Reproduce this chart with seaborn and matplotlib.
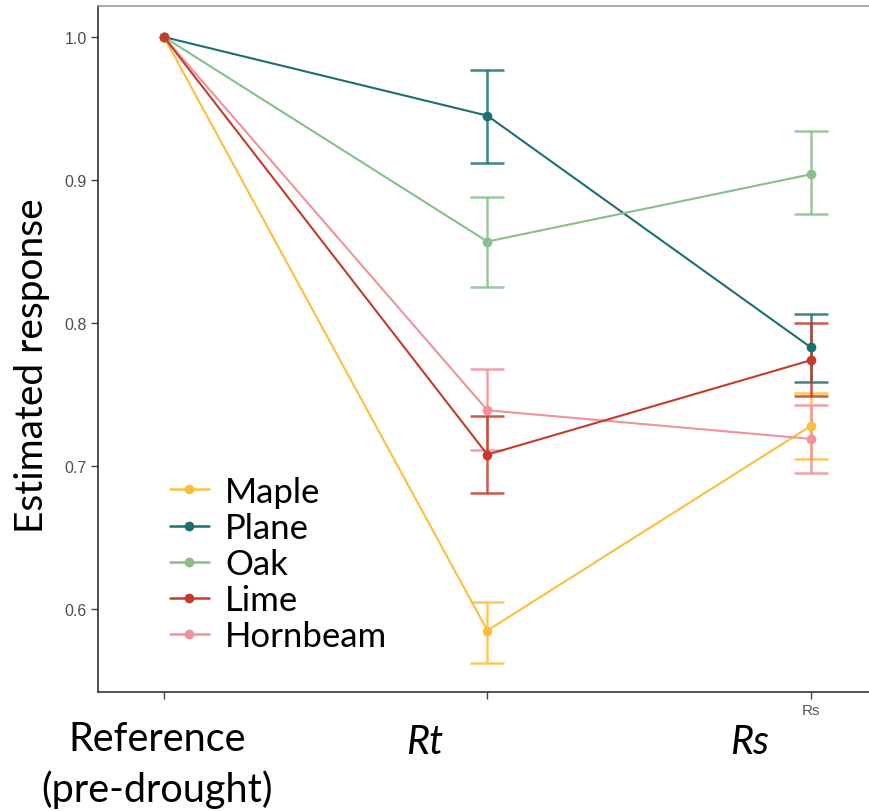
import numpy as np
import pandas as pd
import matplotlib
matplotlib.use("Agg")
import matplotlib.pyplot as plt
import seaborn as sns

conditions = ["Reference", "Rt", "Rs"]
species = ["Maple", "Plane", "Oak", "Lime", "Hornbeam"]
colors = ["#FDBE3E", "#1A7072", "#87BF8D", "#C43B2C", "#F0919B"]

maple = [1.0, 0.585, 0.728]
plane = [1.0, 0.945, 0.783]
oak = [1.0, 0.857, 0.904]
lime = [1.0, 0.708, 0.774]
hornbeam = [1.0, 0.739, 0.719]

maple_lo = [np.nan, 0.562, 0.705]
maple_hi = [np.nan, 0.605, 0.751]
plane_lo = [np.nan, 0.912, 0.759]
plane_hi = [np.nan, 0.977, 0.806]
oak_lo = [np.nan, 0.825, 0.876]
oak_hi = [np.nan, 0.888, 0.934]
lime_lo = [np.nan, 0.681, 0.749]
lime_hi = [np.nan, 0.735, 0.800]
hornbeam_lo = [np.nan, 0.711, 0.695]
hornbeam_hi = [np.nan, 0.768, 0.743]

values = {"Maple": maple, "Plane": plane, "Oak": oak, "Lime": lime, "Hornbeam": hornbeam}
lows = {"Maple": maple_lo, "Plane": plane_lo, "Oak": oak_lo, "Lime": lime_lo, "Hornbeam": hornbeam_lo}
highs = {"Maple": maple_hi, "Plane": plane_hi, "Oak": oak_hi, "Lime": lime_hi, "Hornbeam": hornbeam_hi}

rows = []
for sp in species:
    for i, c in enumerate(conditions):
        rows.append({"species": sp, "x": i, "y": values[sp][i],
                     "lo": lows[sp][i], "hi": highs[sp][i]})
df = pd.DataFrame(rows)

sns.set_theme(style="white")
plt.rcParams["font.family"] = ["Lato", "DejaVu Sans"]
plt.rcParams["text.color"] = "black"

fig = plt.figure(figsize=(8.69, 8.12), dpi=100)
ax = fig.add_axes([98/869, 1-693/812, 1-98/869, (693-7)/812])

palette = dict(zip(species, colors))
draw_order = ["Maple", "Plane", "Oak", "Hornbeam", "Lime"]

for sp in draw_order:
    sub = df[(df.species == sp) & df.lo.notna()]
    ax.errorbar(sub.x, sub.y, yerr=[sub.y - sub.lo, sub.hi - sub.y], fmt="none",
                ecolor=palette[sp], elinewidth=1.8, capsize=12, capthick=1.8,
                alpha=0.85, zorder=2)

sns.lineplot(data=df, x="x", y="y", hue="species", hue_order=draw_order,
             palette=palette, marker="o", markersize=7, markeredgewidth=0,
             linewidth=1.5, ax=ax, legend=True, zorder=3)

ax.set_xlim(-0.204, 2.18)
ax.set_ylim(0.542, 1.0217)
ax.set_xticks([0, 1, 2])
ax.set_xticklabels(["", "", "Rs"], fontsize=11, color="#555555",
                   family=["Liberation Sans", "DejaVu Sans"])
ax.set_yticks([0.6, 0.7, 0.8, 0.9, 1.0])
ax.set_yticklabels(["0.6", "0.7", "0.8", "0.9", "1.0"], fontsize=11.5, color="#4d4d4d",
                   family=["Liberation Sans", "DejaVu Sans"])
ax.tick_params(axis="both", which="both", length=5, width=1, color="#444444",
               bottom=True, left=True, direction="out", pad=3)
ax.set_xlabel("")
ax.set_ylabel("Estimated response", fontsize=28, color="black")
ax.yaxis.set_label_coords(-0.0625, 0.477)
for s in ["left", "bottom"]:
    ax.spines[s].set_color("#333333")
    ax.spines[s].set_linewidth(1.2)
ax.spines["top"].set_color("#999999")
ax.spines["top"].set_linewidth(1.2)
ax.spines["right"].set_visible(False)

handles, labels = ax.get_legend_handles_labels()
hmap = dict(zip(labels, handles))
handles = [hmap[s] for s in species]
leg = ax.legend(handles, species, loc="lower left", bbox_to_anchor=(0.059, 0.02),
                frameon=True, facecolor="white", edgecolor="white", framealpha=1,
                fontsize=25, handlelength=1.15, handletextpad=0.45,
                labelspacing=0.12, borderpad=0.25)
for t in leg.get_texts():
    t.set_color("black")
for h in leg.get_lines():
    h.set_linewidth(1.8)

fig.text(157/869, 1-740/812, "Reference", fontsize=28.5, ha="center", va="center", color="black")
fig.text(157/869, 1-790/812, "(pre-drought)", fontsize=28.5, ha="center", va="center", color="black")
fig.text(425/869, 1-742/812, "Rt", fontsize=28.5, style="italic", ha="center", va="center", color="black")
fig.text(750/869, 1-742/812, "Rs", fontsize=28.5, style="italic", ha="center", va="center", color="black")

fig.savefig("out.png", dpi=100)
